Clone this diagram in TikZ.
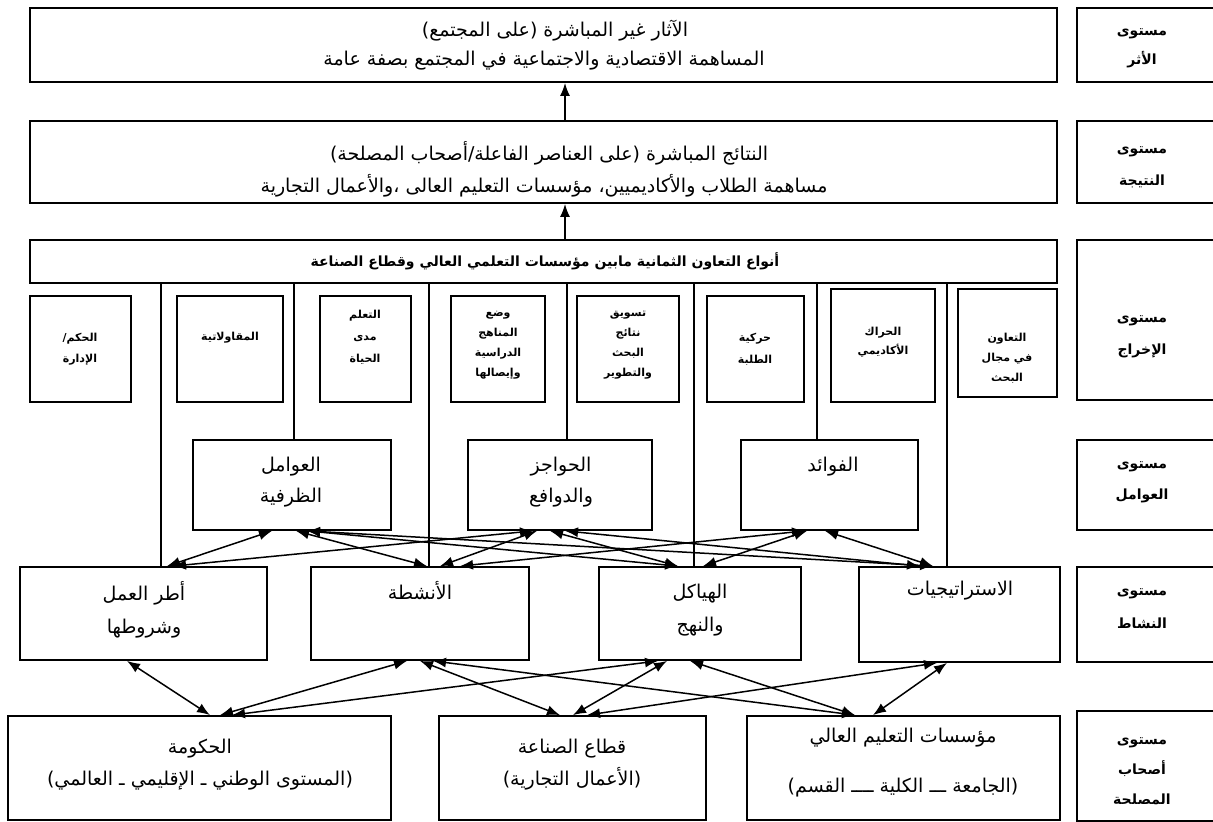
\documentclass[tikz,border=0pt]{standalone}
\usepackage{fontspec}
\usetikzlibrary{arrows.meta}
\newfontfamily\arabicfont[Script=Arabic]{DejaVu Sans}
\TeXXeTstate=1
\newcommand\AR[1]{\beginR #1\endR}
\newcommand\fsz[2]{\arabicfont\fontsize{#1}{#2}\selectfont}
\newcommand\bx[5]{\node[box, minimum width={(#4-#2)*1pt}, minimum height={(#5-#3)*1pt}] (#1) at ({(#2+#4)/2},{(#3+#5)/2}) {};}
\tikzset{
  box/.style={draw, line width=1.8pt, inner sep=0pt},
  txt/.style={inner sep=0pt, align=center},
  vl/.style={line width=1.4pt},
  dbl/.style={{Latex[length=13pt,width=10pt]}-{Latex[length=13pt,width=10pt]}, line width=1.5pt},
  up/.style={-{Latex[length=13pt,width=10pt]}, line width=1.5pt},
}
\begin{document}
\begin{tikzpicture}[x=1pt,y=-1pt]
\useasboundingbox[fill=white] (0,0) rectangle (1213,822);
% main boxes
\bx{imp}{30}{8}{1057}{82}
\bx{res}{30}{121}{1057}{203}
\bx{hdr}{30}{240}{1057}{283}
% level labels
\bx{L1}{1077}{8}{1222}{82}
\bx{L2}{1077}{121}{1222}{203}
\bx{L3}{1077}{240}{1222}{400}
\bx{L4}{1077}{440}{1222}{530}
\bx{L5}{1077}{567}{1222}{662}
\bx{L6}{1077}{711}{1222}{821}
% output boxes
\bx{o1}{30}{296}{131}{402}
\bx{o2}{177}{296}{283}{402}
\bx{o3}{320}{296}{411}{402}
\bx{o4}{451}{296}{545}{402}
\bx{o5}{577}{296}{679}{402}
\bx{o6}{707}{296}{804}{402}
\bx{o7}{831}{289}{935}{402}
\bx{o8}{958}{289}{1057}{397}
% factor boxes
\bx{fa}{193}{440}{391}{530}
\bx{fb}{468}{440}{652}{530}
\bx{fc}{741}{440}{918}{530}
% activity boxes
\bx{aa}{20}{567}{267}{660}
\bx{ab}{311}{567}{529}{660}
\bx{ac}{599}{567}{801}{660}
\bx{ad}{859}{567}{1060}{662}
% stakeholder boxes
\bx{sa}{8}{716}{391}{820}
\bx{sb}{439}{716}{706}{820}
\bx{sc}{747}{716}{1060}{820}

% texts
\node[txt, font=\fsz{19}{30}] (timp1) at (555,31) {\AR{الآثار  غير المباشرة (على المجتمع)}};
\node[txt, font=\fsz{19}{30}] (timp2) at (544,61) {\AR{المساهمة الاقتصادية والاجتماعية في المجتمع بصفة عامة}};
\node[txt, font=\fsz{19}{30}] (tres1) at (549,153) {\AR{النتائج المباشرة (على العناصر الفاعلة/أصحاب المصلحة)}};
\node[txt, font=\fsz{19}{30}] (tres2) at (544,186) {\AR{مساهمة الطلاب والأكاديميين، مؤسسات التعليم العالى ،والأعمال التجارية}};
\node[txt, font=\fsz{14}{20}\bfseries] (thdr) at (545,261) {\AR{أنواع التعاون الثمانية مابين مؤسسات التعلمي العالي وقطاع الصناعة}};

\node[txt, font=\fsz{11}{21}\bfseries] (to1) at (80,349) {\AR{الحكم/}\\\AR{الإدارة}};
\node[txt, font=\fsz{11}{21}\bfseries] (to2) at (230,338) {\AR{المقاولاتية}};
\node[txt, font=\fsz{11}{22}\bfseries] (to3) at (365,337) {\AR{التعلم}\\\AR{مدى}\\\AR{الحياة}};
\node[txt, font=\fsz{11}{20}\bfseries] (to4) at (498,345) {\AR{وضع}\\\AR{المناهج}\\\AR{الدراسية}\\\AR{وإيصالها}};
\node[txt, font=\fsz{11}{20}\bfseries] (to5) at (628,345) {\AR{تسويق}\\\AR{نتائج}\\\AR{البحث}\\\AR{والتطوير}};
\node[txt, font=\fsz{11}{22}\bfseries] (to6) at (755,349) {\AR{حركية}\\\AR{الطلبة}};
\node[txt, font=\fsz{11}{19}\bfseries] (to7) at (883,342) {\AR{الحراك}\\\AR{الأكاديمي}};
\node[txt, font=\fsz{11}{20}\bfseries] (to8) at (1007,358) {\AR{التعاون}\\\AR{في مجال}\\\AR{البحث}};

\node[txt, font=\fsz{19}{31}] (tfa) at (291,482) {\AR{العوامل}\\\AR{الظرفية}};
\node[txt, font=\fsz{19}{31}] (tfb) at (561,482) {\AR{الحواجز}\\\AR{والدوافع}};
\node[txt, font=\fsz{19}{31}] (tfc) at (833,467) {\AR{الفوائد}};

\node[txt, font=\fsz{19}{33}] (taa) at (144,610) {\AR{أطر العمل}\\\AR{وشروطها}};
\node[txt, font=\fsz{19}{33}] (tab) at (420,591) {\AR{الأنشطة}};
\node[txt, font=\fsz{19}{33}] (tac) at (700,610) {\AR{الهياكل}\\\AR{والنهج}};
\node[txt, font=\fsz{19}{33}] (tad) at (960,591) {\AR{الاستراتيجيات}};

\node[txt, font=\fsz{19}{32}] (tsa) at (200,765) {\AR{الحكومة}\\\AR{(المستوى الوطني ـ  الإقليمي ـ العالمي)}};
\node[txt, font=\fsz{19}{32}] (tsb) at (572,765) {\AR{قطاع الصناعة}\\\AR{(الأعمال التجارية)}};
\node[txt, font=\fsz{19}{50}] (tsc) at (903,763) {\AR{مؤسسات التعليم العالي}\\\AR{(الجامعة ـــ الكلية ــــ القسم)}};

\node[txt, font=\fsz{14}{29}\bfseries] (tL1) at (1142,48) {\AR{مستوى}\\\AR{الأثر}};
\node[txt, font=\fsz{14}{32}\bfseries] (tL2) at (1142,167) {\AR{مستوى}\\\AR{النتيجة}};
\node[txt, font=\fsz{14}{32}\bfseries] (tL3) at (1142,337) {\AR{مستوى}\\\AR{الإخراج}};
\node[txt, font=\fsz{14}{31}\bfseries] (tL4) at (1142,482) {\AR{مستوى}\\\AR{العوامل}};
\node[txt, font=\fsz{14}{33}\bfseries] (tL5) at (1142,609) {\AR{مستوى}\\\AR{النشاط}};
\node[txt, font=\fsz{14}{30}\bfseries] (tL6) at (1142,771) {\AR{مستوى}\\\AR{أصحاب}\\\AR{المصلحة}};

% vertical lines from header
\draw[vl] (hdr.south -| 161,0) -- (aa.north -| 161,0);
\draw[vl] (hdr.south -| 294,0) -- (fa.north -| 294,0);
\draw[vl] (hdr.south -| 429,0) -- (ab.north -| 429,0);
\draw[vl] (hdr.south -| 567,0) -- (fb.north -| 567,0);
\draw[vl] (hdr.south -| 694,0) -- (ac.north -| 694,0);
\draw[vl] (hdr.south -| 817,0) -- (fc.north -| 817,0);
\draw[vl] (hdr.south -| 947,0) -- (ad.north -| 947,0);

% upward arrows
\draw[up] (hdr.north -| 565,0) -- (res.south -| 565,0);
\draw[up] (res.north -| 565,0) -- (imp.south -| 565,0);

% factors <-> activities
\draw[dbl] (aa.north -| 167,0) -- (fa.south -| 272,0);
\draw[dbl] (aa.north -| 173,0) -- (fb.south -| 533,0);
\draw[dbl] (ab.north -| 427,0) -- (fa.south -| 296,0);
\draw[dbl] (ac.north -| 678,0) -- (fa.south -| 307,0);
\draw[dbl] (ad.north -| 933,0) -- (fa.south -| 307,0);
\draw[dbl] (ab.north -| 440,0) -- (fb.south -| 537,0);
\draw[dbl] (ac.north -| 678,0) -- (fb.south -| 550,0);
\draw[dbl] (ad.north -| 920,0) -- (fb.south -| 565,0);
\draw[dbl] (ab.north -| 460,0) -- (fc.south -| 805,0);
\draw[dbl] (ac.north -| 703,0) -- (fc.south -| 807,0);
\draw[dbl] (ad.north -| 933,0) -- (fc.south -| 825,0);

% activities <-> stakeholders
\draw[dbl] (aa.south -| 127,0) -- (sa.north -| 210,0);
\draw[dbl] (ab.south -| 407,0) -- (sa.north -| 220,0);
\draw[dbl] (ac.south -| 658,0) -- (sa.north -| 232,0);
\draw[dbl] (ab.south -| 420,0) -- (sb.north -| 560,0);
\draw[dbl] (ac.south -| 667,0) -- (sb.north -| 573,0);
\draw[dbl] (ad.south -| 937,0) -- (sb.north -| 587,0);
\draw[dbl] (ab.south -| 433,0) -- (sc.north -| 855,0);
\draw[dbl] (ac.south -| 690,0) -- (sc.north -| 855,0);
\draw[dbl] (ad.south -| 947,0) -- (sc.north -| 873,0);
\end{tikzpicture}
\end{document}
